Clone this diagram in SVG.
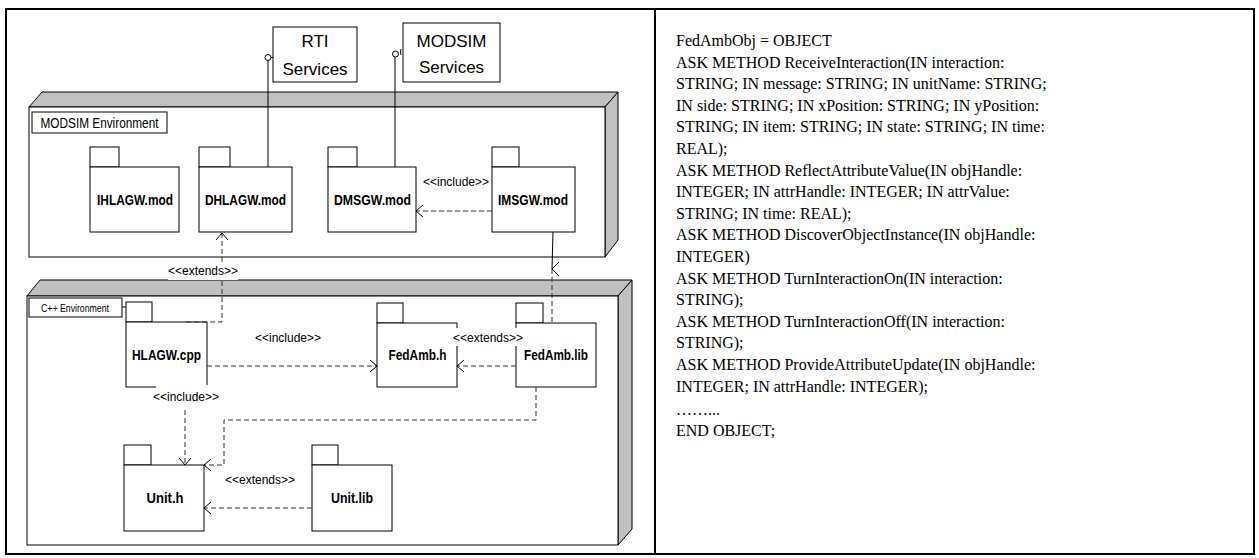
<svg xmlns="http://www.w3.org/2000/svg" width="1259" height="558" viewBox="0 0 1259 558">
<defs>
<style>
.frame{fill:none;stroke:#000;stroke-width:2}
.face{fill:#fff;stroke:#000;stroke-width:1}
.band{fill:#c0c0c0;stroke:#000;stroke-width:1}
.pkg{fill:#fff;stroke:#000;stroke-width:1}
.plabel{font-family:"Liberation Sans",Arial,sans-serif;font-weight:bold;font-size:15px;text-anchor:middle}
.svc{font-family:"Liberation Sans",Arial,sans-serif;font-size:17px;text-anchor:middle}
.envlab{font-family:"Liberation Sans",Arial,sans-serif}
.stereo{font-family:"Liberation Sans",Arial,sans-serif;font-size:12px;text-anchor:middle}
.dash{fill:none;stroke:#333;stroke-width:1;stroke-dasharray:5,3}
.solid{fill:none;stroke:#000;stroke-width:1}
.code{font-family:"Liberation Serif","Times New Roman",serif;font-size:16px}
.bg{fill:#fff;stroke:none}
</style>
<marker id="open" viewBox="0 0 10 14" refX="8" refY="7" markerWidth="10" markerHeight="14" markerUnits="userSpaceOnUse" orient="auto">
<path d="M1,1 L8,7 L1,13" fill="none" stroke="#000" stroke-width="1"/>
</marker>
</defs>

<rect x="0" y="0" width="1259" height="558" fill="#fff"/>
<rect class="frame" x="6" y="9" width="1248" height="545"/>
<line class="frame" x1="655" y1="9" x2="655" y2="554"/>

<g id="modsim-env">
<polygon class="band" points="29,107 42,92 618,92 605,107"/>
<polygon class="band" points="605,107 618,92 618,240 605,257"/>
<rect class="face" x="29" y="107" width="576" height="150"/>
<rect class="face" x="32" y="112" width="135" height="21"/>
<text class="envlab" x="99.5" y="128" font-size="14" text-anchor="middle" textLength="118" lengthAdjust="spacingAndGlyphs">MODSIM Environment</text>
</g>

<g id="cpp-env">
<polygon class="band" points="27,296 40,280 632,280 618,296"/>
<polygon class="band" points="618,296 632,280 632,529 618,545"/>
<rect class="face" x="27" y="296" width="591" height="249"/>
<rect class="face" x="29" y="298" width="93" height="19"/>
<text class="envlab" x="75" y="311.5" font-size="10.5" text-anchor="middle" textLength="68" lengthAdjust="spacingAndGlyphs">C++ Environment</text>
<line class="solid" x1="122" y1="307" x2="126" y2="307"/>
</g>

<g id="rti-services">
<rect class="pkg" x="273" y="27" width="84" height="55"/>
<text class="svc" x="315" y="47">RTI</text>
<text class="svc" x="315" y="75">Services</text>
</g>

<g id="modsim-services">
<rect class="pkg" x="403" y="23" width="97" height="59"/>
<text class="svc" x="451.5" y="47">MODSIM</text>
<text class="svc" x="451.5" y="73">Services</text>
</g>

<g id="ihlagw-mod">
<rect class="pkg" x="90" y="147" width="29" height="20"/>
<rect class="pkg" x="90" y="167" width="89" height="65"/>
<text class="plabel" x="135" y="204.5" textLength="76" lengthAdjust="spacingAndGlyphs">IHLAGW.mod</text>
</g>
<g id="dhlagw-mod">
<rect class="pkg" x="199" y="147" width="31" height="20"/>
<rect class="pkg" x="199" y="167" width="93" height="65"/>
<text class="plabel" x="245.5" y="204.5" textLength="81" lengthAdjust="spacingAndGlyphs">DHLAGW.mod</text>
</g>
<g id="dmsgw-mod">
<rect class="pkg" x="328" y="147" width="29" height="20"/>
<rect class="pkg" x="328" y="167" width="88" height="65"/>
<text class="plabel" x="372.5" y="204.5" textLength="77" lengthAdjust="spacingAndGlyphs">DMSGW.mod</text>
</g>
<g id="imsgw-mod">
<rect class="pkg" x="492" y="147" width="27" height="20"/>
<rect class="pkg" x="492" y="167" width="83" height="65"/>
<text class="plabel" x="533" y="204.5" textLength="70" lengthAdjust="spacingAndGlyphs">IMSGW.mod</text>
</g>

<g id="hlagw-cpp">
<rect class="pkg" x="126" y="302" width="26" height="20"/>
<rect class="pkg" x="126" y="322" width="81" height="65"/>
<text class="plabel" x="166.5" y="359.5" textLength="69" lengthAdjust="spacingAndGlyphs">HLAGW.cpp</text>
</g>
<g id="fedamb-h">
<rect class="pkg" x="377" y="303" width="26" height="20"/>
<rect class="pkg" x="377" y="323" width="80" height="64"/>
<text class="plabel" x="417.5" y="359.5" textLength="58" lengthAdjust="spacingAndGlyphs">FedAmb.h</text>
</g>
<g id="fedamb-lib">
<rect class="pkg" x="516" y="303" width="27" height="20"/>
<rect class="pkg" x="516" y="323" width="80" height="64"/>
<text class="plabel" x="556" y="359.5" textLength="64" lengthAdjust="spacingAndGlyphs">FedAmb.lib</text>
</g>
<g id="unit-h">
<rect class="pkg" x="124" y="445" width="27" height="20"/>
<rect class="pkg" x="124" y="465" width="80" height="66"/>
<text class="plabel" x="165" y="502.5" textLength="37" lengthAdjust="spacingAndGlyphs">Unit.h</text>
</g>
<g id="unit-lib">
<rect class="pkg" x="312" y="445" width="26" height="20"/>
<rect class="pkg" x="312" y="465" width="80" height="66"/>
<text class="plabel" x="352" y="502.5" textLength="42" lengthAdjust="spacingAndGlyphs">Unit.lib</text>
</g>

<g id="connectors">
<circle cx="268" cy="57.5" r="3" fill="#fff" stroke="#000"/>
<line class="solid" x1="268" y1="60.5" x2="268" y2="167"/>
<line class="solid" x1="271" y1="57.5" x2="273" y2="57.5"/>
<circle cx="395.5" cy="54" r="3" fill="#fff" stroke="#000"/>
<line class="solid" x1="395" y1="57" x2="395" y2="167"/>
<path class="solid" d="M401,49 Q400,52 401,55"/>
<line class="dash" x1="492" y1="211" x2="416" y2="211" marker-end="url(#open)"/>
<polyline class="dash" points="186,322 222,322 222,233" marker-end="url(#open)"/>
<line class="solid" x1="553" y1="232" x2="552" y2="269"/>
<path class="solid" d="M559,262 L552,269 L559,276"/>
<line class="dash" x1="552" y1="269" x2="552" y2="323"/>
<line class="dash" x1="207" y1="366" x2="377" y2="366" marker-end="url(#open)"/>
<line class="dash" x1="516" y1="366" x2="457" y2="366" marker-end="url(#open)"/>
<line class="dash" x1="185" y1="410" x2="185" y2="465" marker-end="url(#open)"/>
<polyline class="dash" points="536,387 536,420 224,420 224,465 204,465" marker-end="url(#open)"/>
<line class="dash" x1="312" y1="508" x2="204" y2="508" marker-end="url(#open)"/>
</g>

<g id="labels">
<text class="stereo" x="456" y="186">&lt;&lt;include&gt;&gt;</text>
<rect class="bg" x="168" y="263" width="70" height="17"/>
<text class="stereo" x="203" y="275">&lt;&lt;extends&gt;&gt;</text>
<text class="stereo" x="288" y="342">&lt;&lt;include&gt;&gt;</text>
<rect class="bg" x="453" y="328" width="70" height="18"/>
<text class="stereo" x="488" y="342">&lt;&lt;extends&gt;&gt;</text>
<rect class="bg" x="156" y="385" width="64" height="22"/>
<text class="stereo" x="186" y="401">&lt;&lt;include&gt;&gt;</text>
<text class="stereo" x="260" y="484">&lt;&lt;extends&gt;&gt;</text>
</g>

<g id="code">
<text class="code" x="676" y="46">FedAmbObj = OBJECT</text>
<text class="code" x="676" y="67.6">ASK METHOD ReceiveInteraction(IN interaction:</text>
<text class="code" x="676" y="89.2">STRING; IN message: STRING; IN unitName: STRING;</text>
<text class="code" x="676" y="110.8">IN side: STRING; IN xPosition: STRING; IN yPosition:</text>
<text class="code" x="676" y="132.4">STRING; IN item: STRING; IN state: STRING; IN time:</text>
<text class="code" x="676" y="154">REAL);</text>
<text class="code" x="676" y="175.6">ASK METHOD ReflectAttributeValue(IN objHandle:</text>
<text class="code" x="676" y="197.2">INTEGER; IN attrHandle: INTEGER; IN attrValue:</text>
<text class="code" x="676" y="218.8">STRING; IN time: REAL);</text>
<text class="code" x="676" y="240.4">ASK METHOD DiscoverObjectInstance(IN objHandle:</text>
<text class="code" x="676" y="262">INTEGER)</text>
<text class="code" x="676" y="283.6">ASK METHOD TurnInteractionOn(IN interaction:</text>
<text class="code" x="676" y="305.2">STRING);</text>
<text class="code" x="676" y="326.8">ASK METHOD TurnInteractionOff(IN interaction:</text>
<text class="code" x="676" y="348.4">STRING);</text>
<text class="code" x="676" y="370">ASK METHOD ProvideAttributeUpdate(IN objHandle:</text>
<text class="code" x="676" y="391.6">INTEGER; IN attrHandle: INTEGER);</text>
<text class="code" x="676" y="414.5">……...</text>
<text class="code" x="676" y="436">END OBJECT;</text>
</g>
</svg>
